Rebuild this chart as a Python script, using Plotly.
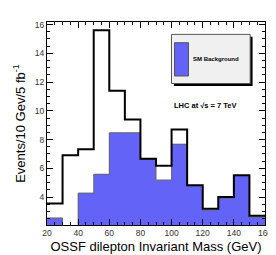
import plotly.graph_objects as go

# Data
bin_edges = [20, 30, 40, 50, 60, 70, 80, 90, 100, 110, 120, 130, 140, 150, 160]
sm_background = [2.55, 0.0, 4.28, 5.59, 8.48, 8.48, 6.62, 5.19, 7.68, 4.80, 3.10, 3.93, 5.50, 2.62]
total_events = [3.55, 6.92, 7.33, 15.6, 11.4, 9.4, 6.66, 6.18, 8.71, 4.82, 3.19, 4.00, 5.52, 2.70]
x_ticks = [20, 40, 60, 80, 100, 120, 140, 160]
y_ticks = [4, 6, 8, 10, 12, 14, 16]

centers = [(bin_edges[i] + bin_edges[i + 1]) / 2 for i in range(len(bin_edges) - 1)]

BLUE = "#6363f8"
FONT = "Liberation Sans, Arial, sans-serif"

fig = go.Figure()
fig.add_trace(go.Bar(x=centers, y=sm_background, width=10,
                     marker=dict(color=BLUE, line=dict(width=0)),
                     showlegend=False, hoverinfo="skip"))
fig.add_trace(go.Scatter(x=bin_edges, y=sm_background + [sm_background[-1]],
                         mode="lines", line=dict(shape="hv", color="#666666", width=1),
                         showlegend=False, hoverinfo="skip"))
fig.add_trace(go.Scatter(x=bin_edges, y=total_events + [total_events[-1]],
                         mode="lines", line=dict(shape="hv", color="black", width=2),
                         showlegend=False, hoverinfo="skip"))

axis_common = dict(showline=True, linecolor="black", linewidth=1, mirror="allticks",
                   ticks="inside", ticklen=6, tickcolor="black", tickwidth=1,
                   showgrid=False, zeroline=False,
                   tickfont=dict(family=FONT, size=8.5, color="#333333"))

fig.update_xaxes(range=[20, 160], tickvals=x_ticks,
                 minor=dict(dtick=5, ticks="inside", ticklen=3, tickcolor="black", showgrid=False),
                 title=dict(text="OSSF dilepton Invariant Mass (GeV)",
                            font=dict(family=FONT, size=13, color="black"), standoff=4),
                 **axis_common)
fig.update_yaxes(range=[2.06, 16.18], tickvals=y_ticks,
                 minor=dict(dtick=0.5, ticks="inside", ticklen=3, tickcolor="black", showgrid=False),
                 title=dict(text="Events/10 Gev/5 fb<sup>-1</sup>",
                            font=dict(family=FONT, size=13, color="black"), standoff=6),
                 **axis_common)

shapes = [
    # legend shadow
    dict(type="rect", xref="paper", yref="paper", x0=0.582, x1=0.943, y0=0.685, y1=0.927,
         fillcolor="black", line=dict(width=0), layer="above"),
    # legend box
    dict(type="rect", xref="paper", yref="paper", x0=0.571, x1=0.932, y0=0.697, y1=0.939,
         fillcolor="#f0f0f0", line=dict(color="#555555", width=1), layer="above"),
    # legend swatch
    dict(type="rect", xref="paper", yref="paper", x0=0.585, x1=0.649, y0=0.734, y1=0.898,
         fillcolor=BLUE, line=dict(color="#555555", width=1), layer="above"),
]

annotations = [
    dict(text="<b>SM Background</b>", xref="paper", yref="paper", x=0.662, y=0.816,
         xanchor="left", yanchor="middle", showarrow=False,
         font=dict(family=FONT, size=6, color="black")),
    dict(text="<b>LHC at √s = 7 TeV</b>", xref="paper", yref="paper", x=0.572, y=0.589,
         xanchor="left", yanchor="middle", showarrow=False,
         font=dict(family=FONT, size=7.5, color="black")),
]

fig.update_layout(width=276, height=255, margin=dict(l=36, r=14, t=14, b=34),
                  plot_bgcolor="white", paper_bgcolor="white", bargap=0,
                  shapes=shapes, annotations=annotations, showlegend=False)

fig.write_html("out.html")
